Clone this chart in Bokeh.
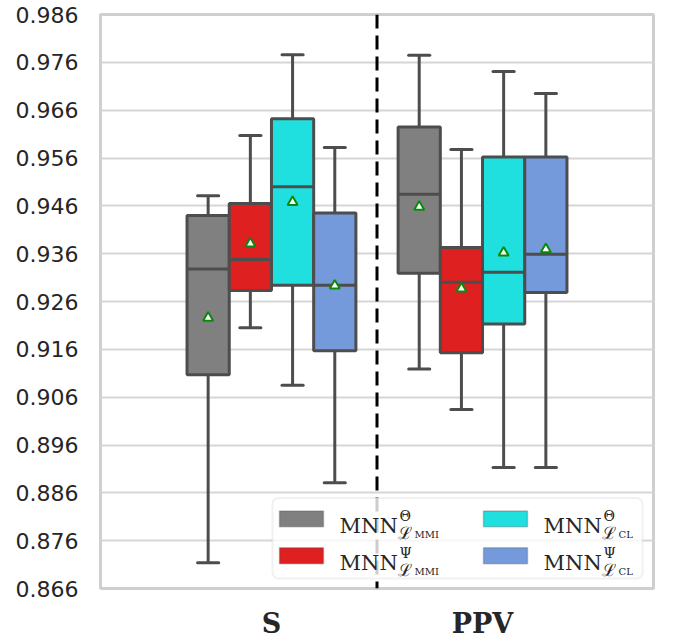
import numpy as np
from bokeh.plotting import figure
from bokeh.models import (Range1d, FixedTicker, Span, BoxAnnotation, Label,
                          ColumnDataSource)
from bokeh.embed import file_html
from bokeh.resources import INLINE

# ---------------- data ----------------
categories = ["S", "PPV"]
series = ["MMI_Theta", "MMI_Psi", "CL_Theta", "CL_Psi"]
colors = ["#808080", "#df2020", "#20dfdf", "#759adc"]
sup_sym = ["\u0398", "\u03a8", "\u0398", "\u03a8"]
sub_txt = ["MMI", "MMI", "CL", "CL"]

# per series, values for [S, PPV]
whisker_low = {
    "MMI_Theta": [0.8714, 0.9119],
    "MMI_Psi":   [0.9205, 0.9034],
    "CL_Theta":  [0.9085, 0.8913],
    "CL_Psi":    [0.8881, 0.8913],
}
q1 = {
    "MMI_Theta": [0.9107, 0.9319],
    "MMI_Psi":   [0.9283, 0.9153],
    "CL_Theta":  [0.9294, 0.9213],
    "CL_Psi":    [0.9157, 0.9279],
}
median = {
    "MMI_Theta": [0.9328, 0.9484],
    "MMI_Psi":   [0.9348, 0.9300],
    "CL_Theta":  [0.9500, 0.9321],
    "CL_Psi":    [0.9294, 0.9359],
}
q3 = {
    "MMI_Theta": [0.9440, 0.9625],
    "MMI_Psi":   [0.9465, 0.9373],
    "CL_Theta":  [0.9642, 0.9562],
    "CL_Psi":    [0.9445, 0.9562],
}
whisker_high = {
    "MMI_Theta": [0.9481, 0.9775],
    "MMI_Psi":   [0.9607, 0.9578],
    "CL_Theta":  [0.9776, 0.9741],
    "CL_Psi":    [0.9582, 0.9695],
}
mean = {
    "MMI_Theta": [0.9226, 0.9458],
    "MMI_Psi":   [0.9381, 0.9287],
    "CL_Theta":  [0.9468, 0.9362],
    "CL_Psi":    [0.9293, 0.9369],
}
y_ticks = [0.866, 0.876, 0.886, 0.896, 0.906, 0.916, 0.926, 0.936,
           0.946, 0.956, 0.966, 0.976, 0.986]

# ---------------- layout ----------------
W, H = 674, 641
FL, FR, FT, FB = 100, 653, 14, 591
X0, X1 = -0.81, 1.81
Y0, Y1 = y_ticks[0], y_ticks[-1]

p = figure(width=W, height=H, output_backend="svg", toolbar_location=None,
           x_range=Range1d(X0, X1), y_range=Range1d(Y0, Y1),
           min_border_left=FL, min_border_right=W - FR,
           min_border_top=FT, min_border_bottom=H - FB,
           background_fill_color="white", border_fill_color="white")
p.outline_line_color = "#cfcfcf"
p.outline_line_width = 3
p.xgrid.grid_line_color = None
p.ygrid.grid_line_color = "#d6d6d6"
p.ygrid.grid_line_width = 2

p.yaxis.ticker = FixedTicker(ticks=y_ticks)
p.yaxis.major_label_overrides = {t: f"{t:.3f}" for t in y_ticks}
p.yaxis.axis_line_color = None
p.yaxis.major_tick_line_color = None
p.yaxis.minor_tick_line_color = None
p.yaxis.major_tick_out = 0
p.yaxis.major_label_standoff = 22
p.yaxis.major_label_text_font = "DejaVu Sans"
p.yaxis.major_label_text_font_size = "22px"
p.yaxis.major_label_text_color = "#262626"

p.xaxis.ticker = FixedTicker(ticks=list(range(len(categories))))
p.xaxis.major_label_overrides = {i: c for i, c in enumerate(categories)}
p.xaxis.axis_line_color = None
p.xaxis.major_tick_line_color = None
p.xaxis.minor_tick_line_color = None
p.xaxis.major_tick_out = 0
p.xaxis.major_label_standoff = 19
p.xaxis.major_label_text_font = "DejaVu Serif"
p.xaxis.major_label_text_font_style = "bold"
p.xaxis.major_label_text_font_size = "27px"
p.xaxis.major_label_text_color = "#262626"

EDGE = "#4d4d4d"
LW = 3
n = len(series)
box_w = 0.8 / n
cap_w = box_w / 2
xc = np.arange(len(categories))

for k, s in enumerate(series):
    off = -0.4 + box_w * (k + 0.5)
    x = xc + off
    src = ColumnDataSource(dict(
        x=x, left=x - box_w / 2, right=x + box_w / 2,
        cl=x - cap_w / 2, cr=x + cap_w / 2,
        lo=whisker_low[s], q1=q1[s], med=median[s], q3=q3[s],
        hi=whisker_high[s], mean=mean[s]))
    p.segment(x0="x", y0="hi", x1="x", y1="q3", source=src,
              line_color=EDGE, line_width=LW)
    p.segment(x0="x", y0="lo", x1="x", y1="q1", source=src,
              line_color=EDGE, line_width=LW)
    p.segment(x0="cl", y0="hi", x1="cr", y1="hi", source=src,
              line_color=EDGE, line_width=LW, line_cap="round")
    p.segment(x0="cl", y0="lo", x1="cr", y1="lo", source=src,
              line_color=EDGE, line_width=LW, line_cap="round")
    p.quad(left="left", right="right", bottom="q1", top="q3", source=src,
           fill_color=colors[k], line_color=EDGE, line_width=LW)
    p.segment(x0="left", y0="med", x1="right", y1="med", source=src,
              line_color=EDGE, line_width=LW)
    p.scatter(x="x", y="mean", source=src, marker="triangle", size=10,
              fill_color="white", line_color="#0a8a0a", line_width=2)

# dashed separator between categories
p.add_layout(Span(location=0.5, dimension="height", line_color="black",
                  line_width=3, line_dash="14 7"))

# ---------------- legend (drawn by hand for sub/superscripts) ----------------
def px2x(px):
    return X0 + (px - FL) / (FR - FL) * (X1 - X0)

def px2y(py):
    return Y1 - (py - FT) / (FB - FT) * (Y1 - Y0)

p.add_layout(BoxAnnotation(left=px2x(272), right=px2x(642),
                           top=px2y(500), bottom=px2y(581),
                           fill_color="white", fill_alpha=0.8,
                           line_color="#d0d0d0", line_width=2,
                           border_radius=6, level="overlay"))

col_px = [279, 483]
row_py = [521, 558]
order = [(0, 0), (1, 0), (0, 1), (1, 1)]  # (row, col) for each series
TXT = "#262626"
for k, s in enumerate(series):
    r, c = order[k]
    pl, pc = col_px[c], row_py[r]
    p.add_layout(BoxAnnotation(left=px2x(pl), right=px2x(pl + 44),
                               top=px2y(pc - 8), bottom=px2y(pc + 8),
                               fill_color=colors[k], fill_alpha=1,
                               line_color=EDGE, line_width=1.5,
                               level="overlay"))
    tx = pl + 60
    base = pc + 7
    p.add_layout(Label(x=px2x(tx), y=px2y(base), text="MNN",
                       text_font="DejaVu Serif", text_font_size="21px",
                       text_color=TXT, text_baseline="alphabetic",
                       level="overlay"))
    p.add_layout(Label(x=px2x(tx + 60), y=px2y(base - 10), text=sup_sym[k],
                       text_font="DejaVu Serif", text_font_size="14px",
                       text_color=TXT, text_baseline="alphabetic",
                       level="overlay"))
    p.add_layout(Label(x=px2x(tx + 58), y=px2y(base + 7), text="\u2112",
                       text_font="DejaVu Serif", text_font_size="17px",
                       text_color=TXT, text_baseline="alphabetic",
                       level="overlay"))
    p.add_layout(Label(x=px2x(tx + 75), y=px2y(base + 9), text=sub_txt[k],
                       text_font="DejaVu Serif", text_font_size="10px",
                       text_color=TXT, text_baseline="alphabetic",
                       level="overlay"))

open("out.html", "w").write(file_html(p, INLINE))
